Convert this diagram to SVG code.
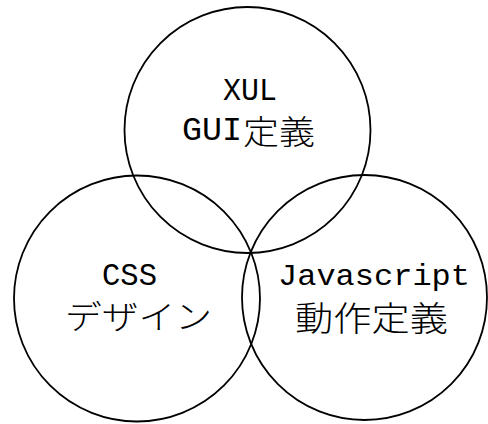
<svg xmlns="http://www.w3.org/2000/svg" width="488" height="424" viewBox="0 0 488 424">
<style>
.c{fill:none;stroke:#000;stroke-width:1.8}
.l{font-family:"Liberation Mono","DejaVu Sans Mono",monospace;fill:#000}
.j{font-family:"Noto Sans CJK JP","Noto Sans",sans-serif;font-weight:300;fill:#000}
</style>
<rect width="488" height="424" fill="#fff"/>
<g id="xul">
<circle class="c" cx="247.5" cy="130" r="123"/>
<text class="l" x="223" y="100" font-size="32" textLength="54" lengthAdjust="spacingAndGlyphs">XUL</text>
<text y="142"><tspan class="l" x="182" y="140" font-size="33" textLength="60" lengthAdjust="spacingAndGlyphs">GUI</tspan><tspan class="j" x="243" y="144" font-size="33" textLength="72" lengthAdjust="spacingAndGlyphs">定義</tspan></text>
</g>
<g id="css">
<circle class="c" cx="137" cy="298.5" r="123"/>
<text class="l" x="102" y="285" font-size="31" textLength="55" lengthAdjust="spacingAndGlyphs">CSS</text>
<text class="j" x="65" y="329" font-size="33" textLength="147" lengthAdjust="spacingAndGlyphs">デザイン</text>
</g>
<g id="js">
<circle class="c" cx="364.5" cy="297.5" r="122.5"/>
<text class="l" x="278" y="285" font-size="30" textLength="192" lengthAdjust="spacingAndGlyphs">Javascript</text>
<text class="j" x="295" y="331" font-size="34" textLength="153" lengthAdjust="spacingAndGlyphs">動作定義</text>
</g>
<g id="connectors"></g>
</svg>
